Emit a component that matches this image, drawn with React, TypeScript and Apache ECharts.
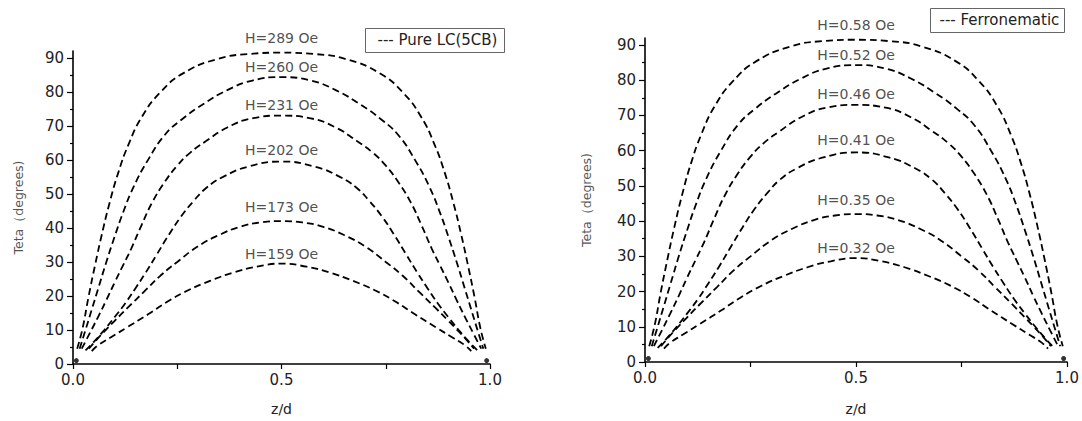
import React, { useEffect, useRef } from "react";
import * as echarts from "echarts";

// Teta (degrees) vs z/d, one array of [z/d, Teta] points per field value
const curveH1 = [[0.01, 4.5], [0.023, 10.5], [0.037, 19.6], [0.053, 29.1], [0.069, 38], [0.088, 47.5], [0.109, 56.4], [0.133, 64.5], [0.165, 72.6], [0.209, 79.8], [0.265, 85.5], [0.345, 89.6], [0.42, 91.1], [0.5, 91.5], [0.58, 91.1], [0.655, 89.6], [0.735, 85.5], [0.791, 79.8], [0.835, 72.6], [0.867, 64.5], [0.891, 56.4], [0.912, 47.5], [0.931, 38], [0.947, 29.1], [0.963, 19.6], [0.977, 10.5], [0.99, 4.5]];
const curveH2 = [[0.016, 4.5], [0.03, 10], [0.045, 16], [0.06, 22], [0.08, 30], [0.1, 37.5], [0.12, 44.5], [0.145, 52], [0.18, 60], [0.22, 67.3], [0.26, 71.8], [0.31, 76.2], [0.37, 80.5], [0.43, 83.3], [0.5, 84.3], [0.57, 83.3], [0.63, 80.5], [0.69, 76.2], [0.74, 71.8], [0.78, 67.3], [0.82, 60], [0.855, 52], [0.88, 44.5], [0.9, 37.5], [0.92, 30], [0.94, 22], [0.955, 16], [0.97, 10], [0.984, 4.5]];
const curveH3 = [[0.021, 4.5], [0.04, 9], [0.06, 13.8], [0.08, 18.8], [0.1, 24], [0.12, 29], [0.14, 34], [0.165, 41], [0.19, 47.5], [0.22, 53.5], [0.25, 58.3], [0.28, 62], [0.32, 65.6], [0.37, 69.5], [0.43, 72.2], [0.5, 73], [0.57, 72.2], [0.63, 69.5], [0.68, 65.6], [0.72, 62], [0.75, 58.3], [0.78, 53.5], [0.81, 47.5], [0.835, 41], [0.86, 34], [0.88, 29], [0.9, 24], [0.92, 18.8], [0.94, 13.8], [0.96, 9], [0.979, 4.5]];
const curveH4 = [[0.03, 4], [0.05, 6.5], [0.075, 10], [0.1, 13.8], [0.125, 17.8], [0.15, 22.3], [0.175, 27], [0.2, 32], [0.23, 38], [0.26, 43.5], [0.29, 48], [0.32, 51.8], [0.36, 55], [0.42, 58], [0.5, 59.5], [0.58, 58], [0.64, 55], [0.68, 51.8], [0.71, 48], [0.74, 43.5], [0.77, 38], [0.8, 32], [0.825, 27], [0.85, 22.3], [0.875, 17.8], [0.9, 13.8], [0.925, 10], [0.95, 6.5], [0.97, 4]];
const curveH5 = [[0.038, 4.5], [0.06, 7.6], [0.08, 10.2], [0.1, 12.7], [0.13, 16.4], [0.17, 21.2], [0.21, 26], [0.25, 30], [0.3, 34.6], [0.35, 37.9], [0.4, 40.3], [0.45, 41.6], [0.5, 42], [0.55, 41.6], [0.6, 40.3], [0.65, 37.9], [0.7, 34.6], [0.75, 30], [0.79, 26], [0.83, 21.2], [0.87, 16.4], [0.9, 12.7], [0.92, 10.2], [0.94, 7.6], [0.962, 4.5]];
const curveH6 = [[0.045, 3.8], [0.06, 5.5], [0.09, 7.8], [0.13, 10.8], [0.18, 14.6], [0.225, 18.2], [0.275, 21.6], [0.33, 24.5], [0.385, 26.9], [0.44, 28.6], [0.5, 29.5], [0.56, 28.6], [0.615, 26.9], [0.67, 24.5], [0.725, 21.6], [0.775, 18.2], [0.82, 14.6], [0.87, 10.8], [0.91, 7.8], [0.94, 5.5], [0.955, 3.8]];

const curves = [curveH1, curveH2, curveH3, curveH4, curveH5, curveH6];
const peakZ = 0.5;

const lcLabels = ["H=289 Oe", "H=260 Oe", "H=231 Oe", "H=202 Oe", "H=173 Oe", "H=159 Oe"];
const ferroLabels = ["H=0.58 Oe", "H=0.52 Oe", "H=0.46 Oe", "H=0.41 Oe", "H=0.35 Oe", "H=0.32 Oe"];

const yMajorTicks = [0, 10, 20, 30, 40, 50, 60, 70, 80, 90];
const yMinorTicks = [5, 15, 25, 35, 45, 55, 65, 75, 85];
const xLabelValues = [0, 0.5, 1];
const edgePoints = [[0.008, 1], [0.992, 1]];

const legendLC = "--- Pure LC(5CB)";
const legendFerro = "--- Ferronematic";

// styling (not data)
const labelGaps = [8, 3, 4, 5, 7, 3];
const FONT = "'DejaVu Sans', 'Liberation Sans', Arial, sans-serif";
const INK = "#000";
const TXT = "#222";

function buildAxes(gi: number, yNameGap: number, xNameGap: number) {
  const xAxis = {
    type: "value",
    gridIndex: gi,
    min: 0,
    max: 1,
    interval: 0.25,
    axisLine: { show: true, onZero: false, lineStyle: { color: INK, width: 1.6 } },
    axisTick: { show: true, length: 5, lineStyle: { color: INK, width: 1.2 } },
    axisLabel: {
      customValues: xLabelValues,
      formatter: (v: number) => v.toFixed(1),
      fontSize: 15,
      color: TXT,
      fontFamily: FONT,
      margin: 8,
    },
    splitLine: { show: false },
    name: "z/d",
    nameLocation: "middle",
    nameGap: xNameGap,
    nameTextStyle: { fontSize: 14, color: TXT, fontFamily: FONT },
  };
  const yMain = {
    type: "value",
    gridIndex: gi,
    position: "left",
    min: 0,
    max: 92,
    axisLine: { show: true, onZero: false, lineStyle: { color: INK, width: 1.6 } },
    axisTick: { show: true, customValues: yMajorTicks, length: 6, lineStyle: { color: INK, width: 1.2 } },
    axisLabel: {
      customValues: yMajorTicks,
      fontSize: 15,
      color: TXT,
      fontFamily: FONT,
      margin: 9,
    },
    splitLine: { show: false },
    name: "Teta\uFF08degrees)",
    nameLocation: "middle",
    nameGap: yNameGap,
    nameTextStyle: { fontSize: 12.5, color: "#555", fontFamily: FONT },
  };
  const yMinor = {
    type: "value",
    gridIndex: gi,
    position: "left",
    min: 0,
    max: 92,
    axisLine: { show: false },
    axisTick: { show: true, customValues: yMinorTicks, length: 3, lineStyle: { color: INK, width: 1.2 } },
    axisLabel: { show: false },
    splitLine: { show: false },
  };
  return { xAxis, yAxes: [yMain, yMinor] };
}

function buildSeries(gi: number, labels: string[]) {
  const xi = gi;
  const yi = gi * 2;
  const series: any[] = curves.map((c) => ({
    type: "line",
    xAxisIndex: xi,
    yAxisIndex: yi,
    data: c,
    showSymbol: false,
    smooth: 0.5,
    silent: true,
    lineStyle: { color: INK, width: 1.8, type: [7, 4] },
    z: 2,
  }));
  series.push({
    type: "scatter",
    xAxisIndex: xi,
    yAxisIndex: yi,
    symbolSize: 0,
    silent: true,
    data: curves.map((c, k) => {
      const peak = c.find((p) => p[0] === peakZ) as number[];
      return { value: peak, name: labels[k], label: { distance: labelGaps[k] } };
    }),
    label: {
      show: true,
      position: "top",
      formatter: (p: any) => p.name,
      fontSize: 14,
      color: TXT,
      fontFamily: FONT,
    },
  });
  series.push({
    type: "scatter",
    xAxisIndex: xi,
    yAxisIndex: yi,
    symbol: "circle",
    symbolSize: 5,
    silent: true,
    itemStyle: { color: INK },
    data: edgePoints,
  });
  return series;
}

export default function App() {
  const ref = useRef<HTMLDivElement>(null);
  useEffect(() => {
    if (!ref.current) return;
    const chart = echarts.init(ref.current, null, { renderer: "svg" });
    const a1 = buildAxes(0, 48, 38);
    const a2 = buildAxes(1, 52, 40);
    const option: any = {
      animation: false,
      backgroundColor: "#fff",
      textStyle: { fontFamily: FONT },
      grid: [
        { left: 73, top: 51, width: 417, height: 319 },
        { left: 645, top: 38, width: 422, height: 325 },
      ],
      xAxis: [a1.xAxis, a2.xAxis],
      yAxis: [...a1.yAxes, ...a2.yAxes],
      series: [...buildSeries(0, lcLabels), ...buildSeries(1, ferroLabels)],
      graphic: [
        {
          type: "group",
          left: 365,
          top: 28,
          children: [
            { type: "rect", shape: { x: 0, y: 0, width: 139, height: 24 }, style: { fill: "#fff", stroke: "#666", lineWidth: 1 } },
            { type: "text", x: 12, y: 4, style: { text: legendLC, fontSize: 15, fill: TXT, fontFamily: FONT } },
          ],
        },
        {
          type: "group",
          left: 930,
          top: 8,
          children: [
            { type: "rect", shape: { x: 0, y: 0, width: 134, height: 24 }, style: { fill: "#fff", stroke: "#666", lineWidth: 1 } },
            { type: "text", x: 9, y: 4, style: { text: legendFerro, fontSize: 15, fill: TXT, fontFamily: FONT } },
          ],
        },
      ],
    };
    chart.setOption(option);
    return () => chart.dispose();
  }, []);
  return (
    <div
      ref={ref}
      style={{ position: "fixed", left: 0, top: 0, width: 1082, height: 421, background: "#fff" }}
    />
  );
}
